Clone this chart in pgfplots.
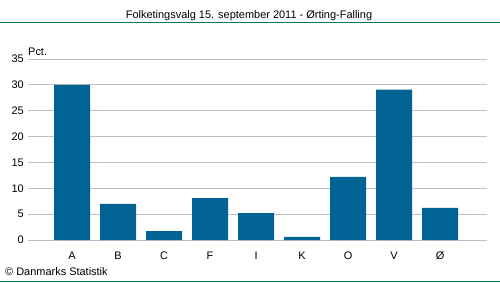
\documentclass[border=0pt]{standalone}
\usepackage{fontspec}
\setmainfont{Liberation Sans}
\usepackage{pgfplots}
\pgfplotsset{compat=1.18}
\definecolor{barc}{RGB}{0,99,148}
\definecolor{grn}{RGB}{0,130,70}
\definecolor{gridc}{RGB}{190,190,200}
\begin{document}
\begin{tikzpicture}[x=1bp,y=1bp]
\useasboundingbox (0,0) rectangle (500,282);
\draw[grn, line width=1bp] (0,260) -- (500,260);
\draw[grn, line width=1bp] (0,0.5) -- (500,0.5);
\node[anchor=base, inner sep=0pt, font=\fontsize{11}{13}\selectfont] at (249,263.5) {Folketingsvalg 15. september 2011 - Ørting-Falling};
\node[anchor=base west, inner sep=0pt, font=\fontsize{11}{13}\selectfont] at (5,7) {© Danmarks Statistik};
\node[anchor=base west, inner sep=0pt, font=\fontsize{11}{13}\selectfont] at (28,226.5) {Pct.};
\begin{axis}[
  at={(28bp,42bp)}, anchor=south west,
  scale only axis, width=459bp, height=181bp,
  ybar, bar width=36bp,
  xmin=-0.957, xmax=9.02, ymin=0, ymax=35,
  xtick={0,...,8}, xticklabels={A,B,C,F,I,K,O,V,Ø},
  ytick={0,5,...,35},
  /pgf/number format/assume math mode=true,
  axis line style={draw=none},
  major tick length=0pt,
  ymajorgrids, grid style={gridc, line width=1bp},
  tick label style={font=\fontsize{11}{13}\selectfont, inner sep=0pt},
  xticklabel style={anchor=base, yshift=-19bp},
  yticklabel style={anchor=east, xshift=-4bp},
]
\addplot[fill=barc, draw=none] coordinates {(0,30.0) (1,7.0) (2,1.7) (3,8.1) (4,5.2) (5,0.6) (6,12.2) (7,29.1) (8,6.2)};
\end{axis}
\end{tikzpicture}
\end{document}
